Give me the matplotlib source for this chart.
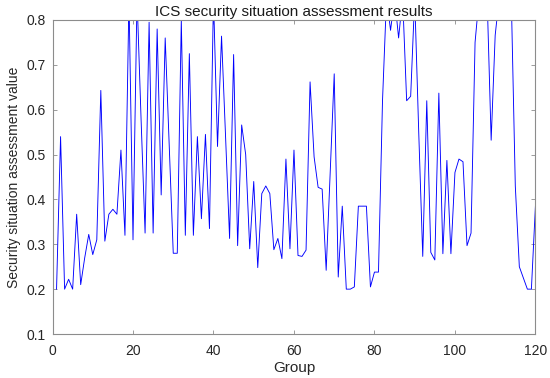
import matplotlib
matplotlib.use('agg')

import matplotlib.pyplot as plt
import numpy as np

plt.rcParams['font.family'] = ['Liberation Sans', 'DejaVu Sans']

# groups 1..120, values (tops above 0.8 are clipped there)
groups = list(range(1, 121))
values = [
    0.20, 0.54, 0.20, 0.222, 0.20, 0.367, 0.21, 0.27, 0.322, 0.277,
    0.31, 0.643, 0.307, 0.367, 0.378, 0.367, 0.51, 0.32, 0.85, 0.31,
    0.85, 0.58, 0.325, 0.795, 0.325, 0.78, 0.41, 0.76, 0.52, 0.28,
    0.28, 0.80, 0.32, 0.725, 0.32, 0.54, 0.357, 0.545, 0.335, 0.85,
    0.518, 0.764, 0.54, 0.313, 0.723, 0.297, 0.566, 0.50, 0.29, 0.44,
    0.248, 0.413, 0.43, 0.413, 0.288, 0.313, 0.268, 0.49, 0.29, 0.51,
    0.275, 0.273, 0.287, 0.662, 0.495, 0.427, 0.423, 0.242, 0.46, 0.68,
    0.227, 0.385, 0.20, 0.20, 0.205, 0.385, 0.385, 0.385, 0.205, 0.238,
    0.238, 0.62, 0.85, 0.777, 0.85, 0.76, 0.85, 0.62, 0.63, 0.85,
    0.55, 0.273, 0.62, 0.282, 0.265, 0.637, 0.279, 0.487, 0.279, 0.46,
    0.49, 0.484, 0.297, 0.325, 0.75, 0.85, 0.85, 0.85, 0.532, 0.766,
    0.85, 0.85, 0.85, 0.85, 0.43, 0.25, 0.225, 0.20, 0.20, 0.385,
]

x_ticks = [0, 20, 40, 60, 80, 100, 120]
y_ticks = [0.1, 0.2, 0.3, 0.4, 0.5, 0.6, 0.7, 0.8]

fig = plt.figure(figsize=(5.5, 3.78), dpi=100)
ax = fig.add_axes([0.0955, 0.1164, 0.878, 0.8307])

ax.plot(groups, values, color='#0000ff', linewidth=0.65)

ax.set_xlim(0, 120)
ax.set_ylim(0.1, 0.8)
ax.set_xticks(x_ticks)
ax.set_yticks(y_ticks)
ax.set_yticklabels(['%.1f' % v for v in y_ticks])

for s in ax.spines.values():
    s.set_color('#8c8c8c')
    s.set_linewidth(0.8)
ax.tick_params(direction='in', length=3, width=0.6, color='#8c8c8c',
               labelsize=10, labelcolor='#262626', top=True, right=True)
ax.tick_params(axis='x', pad=7)
ax.tick_params(axis='y', pad=5)

ax.set_title('ICS security situation assessment results', fontsize=11, pad=3, color='#1a1a1a')
ax.set_xlabel('Group', fontsize=11, labelpad=2, color='#262626')
ax.set_ylabel('Security situation assessment value', fontsize=10, labelpad=4, color='#262626')

fig.savefig('out.png', dpi=100)
